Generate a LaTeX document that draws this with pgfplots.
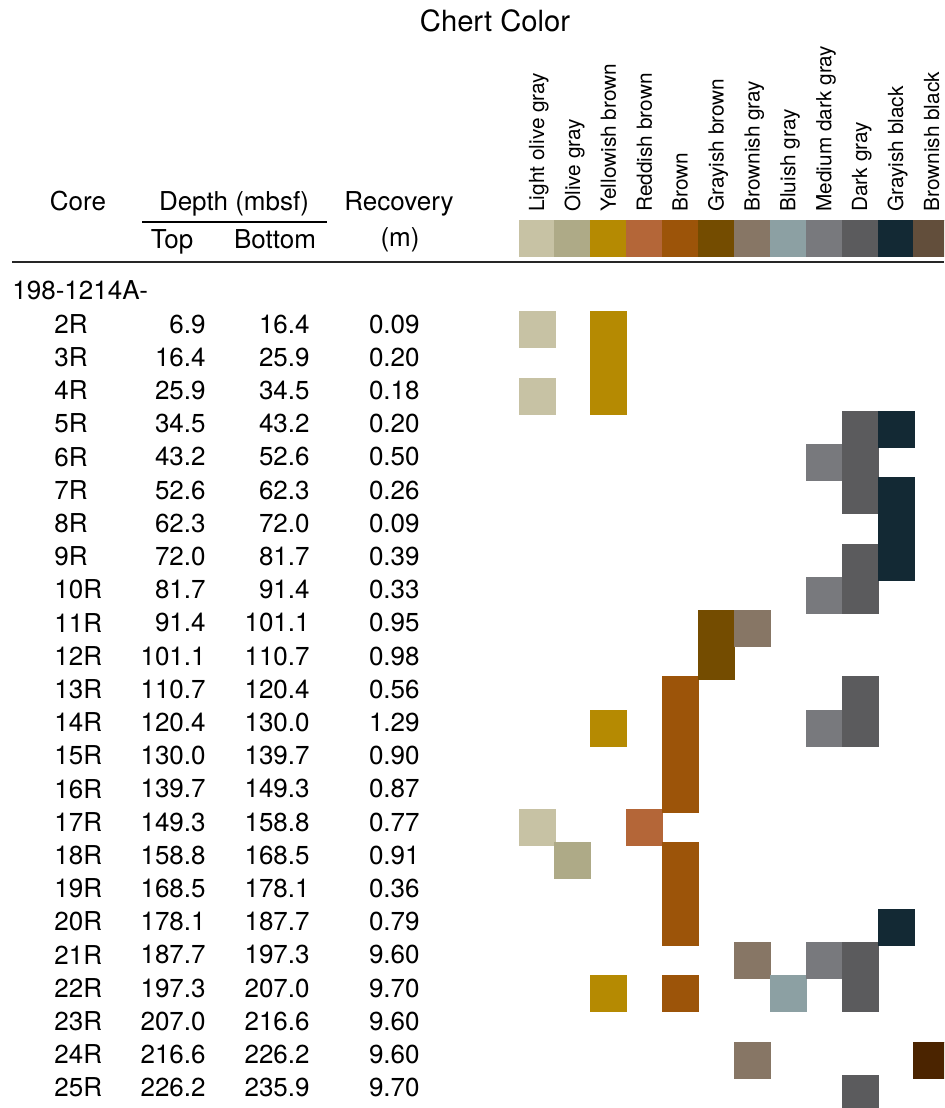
\documentclass[border=0pt]{standalone}
\usepackage{pgfplots}
\pgfplotsset{compat=1.18}
\usepackage{pgfplotstable}
\usepackage{fontspec}
\setmainfont{TeX Gyre Heros}
\definecolor{c1}{HTML}{C7C2A4}
\definecolor{c2}{HTML}{AEAA87}
\definecolor{c3}{HTML}{B58A02}
\definecolor{c4}{HTML}{B46638}
\definecolor{c5}{HTML}{9C5409}
\definecolor{c6}{HTML}{744C00}
\definecolor{c7}{HTML}{877665}
\definecolor{c8}{HTML}{8CA0A3}
\definecolor{c9}{HTML}{78797D}
\definecolor{c10}{HTML}{5B5B5D}
\definecolor{c11}{HTML}{132934}
\definecolor{c12}{HTML}{624E3B}
\definecolor{c12cell}{HTML}{4B2400}
\newcommand\rowfont{\fontsize{13}{15}\selectfont}
\newcommand\titfont{\fontsize{14.6}{17}\selectfont}
\newcommand\labfont{\fontsize{10.4}{12}\selectfont}

\pgfplotstableread{
n core top bottom rec
2 2R 6.9 16.4 0.09
3 3R 16.4 25.9 0.20
4 4R 25.9 34.5 0.18
5 5R 34.5 43.2 0.20
6 6R 43.2 52.6 0.50
7 7R 52.6 62.3 0.26
8 8R 62.3 72.0 0.09
9 9R 72.0 81.7 0.39
10 10R 81.7 91.4 0.33
11 11R 91.4 101.1 0.95
12 12R 101.1 110.7 0.98
13 13R 110.7 120.4 0.56
14 14R 120.4 130.0 1.29
15 15R 130.0 139.7 0.90
16 16R 139.7 149.3 0.87
17 17R 149.3 158.8 0.77
18 18R 158.8 168.5 0.91
19 19R 168.5 178.1 0.36
20 20R 178.1 187.7 0.79
21 21R 187.7 197.3 9.60
22 22R 197.3 207.0 9.70
23 23R 207.0 216.6 9.60
24 24R 216.6 226.2 9.60
25 25R 226.2 235.9 9.70
}\cores

\begin{document}
\begin{tikzpicture}
% ---------- table text (pixel-like layout axis) ----------
\begin{axis}[name=A, scale only axis, width=472pt, height=554pt,
  xmin=0, xmax=944, ymin=0, ymax=1108, y dir=reverse, hide axis, clip=false,
  txt/.style={only marks, mark=none, nodes near coords, point meta=explicit symbolic,
    nodes near coords style={inner sep=0pt, font=\rowfont, text=black}}]
\node[anchor=base, font=\titfont, inner sep=0pt] at (axis cs:495,32) {Chert Color};
\node[anchor=base, font=\rowfont, inner sep=0pt] at (axis cs:78,210) {Core};
\node[anchor=base, font=\rowfont, inner sep=0pt] at (axis cs:234,210) {Depth (mbsf)};
\node[anchor=base, font=\rowfont, inner sep=0pt] at (axis cs:399,210) {Recovery};
\node[anchor=base, font=\rowfont, inner sep=0pt] at (axis cs:172,248) {Top};
\node[anchor=base, font=\rowfont, inner sep=0pt] at (axis cs:275,248) {Bottom};
\node[anchor=base, font=\rowfont, inner sep=0pt] at (axis cs:400,246) {(m)};
\draw[line width=1pt] (axis cs:142,222) -- (axis cs:327,222);
\draw[line width=1.2pt, black!85] (axis cs:12,262) -- (axis cs:944,262);
\node[anchor=west, font=\rowfont, inner sep=0pt] at (axis cs:12,290) {198-1214A-};
\addplot[txt, nodes near coords style={anchor=west}] table[x expr=54, y expr=257.6+33.2*\thisrow{n}, meta=core] {\cores};
\addplot[txt, nodes near coords style={anchor=east}] table[x expr=206, y expr=257.6+33.2*\thisrow{n}, meta=top] {\cores};
\addplot[txt, nodes near coords style={anchor=east}] table[x expr=310, y expr=257.6+33.2*\thisrow{n}, meta=bottom] {\cores};
\addplot[txt, nodes near coords style={anchor=east}] table[x expr=420, y expr=257.6+33.2*\thisrow{n}, meta=rec] {\cores};
\end{axis}
% ---------- colour grid (column index, core number) ----------
\begin{axis}[scale only axis, width=472pt, height=554pt,
  xmin=-13.957, xmax=12.339, ymin=-7.928, ymax=25.446, y dir=reverse, hide axis,
  clip marker paths=true,
  cell/.style={only marks, mark=square*, mark size=9pt, mark options={draw=none}}]
% swatches (row -0.759) and cells
\addplot[cell, c1] coordinates {(1,-0.759) (1,2) (1,4) (1,17)};
\addplot[cell, c2] coordinates {(2,-0.759) (2,18)};
\addplot[cell, c3] coordinates {(3,-0.759) (3,2) (3,3) (3,4) (3,14) (3,22)};
\addplot[cell, c4] coordinates {(4,-0.759) (4,17)};
\addplot[cell, c5] coordinates {(5,-0.759) (5,13) (5,14) (5,15) (5,16) (5,18) (5,19) (5,20) (5,22)};
\addplot[cell, c6] coordinates {(6,-0.759) (6,11) (6,12)};
\addplot[cell, c7] coordinates {(7,-0.759) (7,11) (7,21) (7,24)};
\addplot[cell, c8] coordinates {(8,-0.759) (8,22)};
\addplot[cell, c9] coordinates {(9,-0.759) (9,6) (9,10) (9,14) (9,21)};
\addplot[cell, c10] coordinates {(10,-0.759) (10,5) (10,6) (10,7) (10,9) (10,10) (10,13) (10,14) (10,21) (10,22) (10,25)};
\addplot[cell, c11] coordinates {(11,-0.759) (11,5) (11,7) (11,8) (11,9) (11,20)};
\addplot[cell, c12] coordinates {(12,-0.759)};
\addplot[cell, c12cell] coordinates {(12,24)};
\foreach \c/\t in {1/Light olive gray,2/Olive gray,3/Yellowish brown,4/Reddish brown,5/Brown,6/Grayish brown,7/Brownish gray,8/Bluish gray,9/Medium dark gray,10/Dark gray,11/Grayish black,12/Brownish black}{
  \edef\temp{\noexpand\node[rotate=90, anchor=base west, font=\noexpand\labfont, inner sep=0pt] at (axis cs:\c.2,-1.542) {\t};}
  \temp
}
\end{axis}
\pgfresetboundingbox
\path[use as bounding box] (A.south west) rectangle (A.north east);
\end{tikzpicture}
\end{document}
